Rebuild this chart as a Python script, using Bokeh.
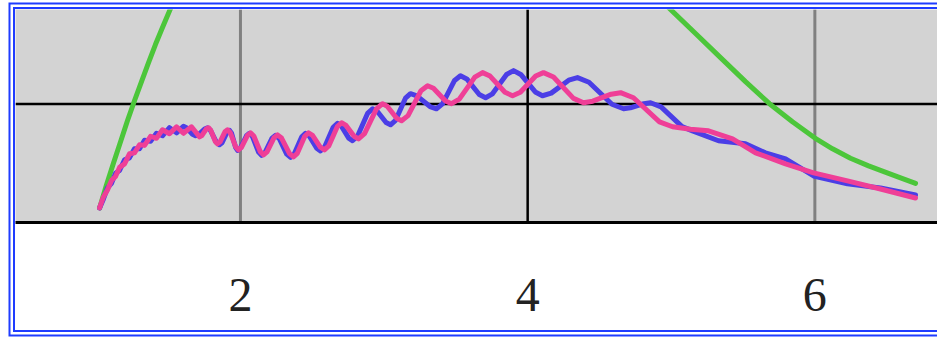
from bokeh.plotting import figure
from bokeh.models import Range1d, Span, FixedTicker
from bokeh.embed import file_html
from bokeh.resources import INLINE

# ---- data ----
x_ticks = [2, 4, 6]

pink_x = [1.019, 1.046, 1.074, 1.102, 1.130, 1.158, 1.193, 1.227, 1.262, 1.297, 1.332, 1.374,
          1.415, 1.457, 1.506, 1.555, 1.603, 1.659, 1.715, 1.731, 1.762, 1.778, 1.793, 1.825,
          1.840, 1.858, 1.892, 1.910, 1.929, 1.967, 1.986, 2.007, 2.049, 2.070, 2.093, 2.138,
          2.161, 2.185, 2.234, 2.258, 2.286, 2.342, 2.369, 2.396, 2.448, 2.474, 2.502, 2.557,
          2.585, 2.615, 2.674, 2.704, 2.733, 2.793, 2.822, 2.864, 2.947, 2.989, 3.022, 3.088,
          3.122, 3.167, 3.257, 3.303, 3.344, 3.428, 3.470, 3.524, 3.632, 3.686, 3.738, 3.842,
          3.895, 3.949, 4.056, 4.110, 4.180, 4.319, 4.389, 4.453, 4.582, 4.647, 4.737, 4.918,
          5.009, 5.134, 5.259, 5.427, 5.587, 5.796, 5.991, 6.227, 6.457, 6.701]
pink_y = [0.123, 0.216, 0.275, 0.355, 0.389, 0.465, 0.495, 0.580, 0.588, 0.656, 0.651, 0.728,
          0.711, 0.783, 0.749, 0.808, 0.753, 0.808, 0.723, 0.734, 0.789, 0.800, 0.780, 0.684,
          0.664, 0.681, 0.766, 0.783, 0.758, 0.638, 0.613, 0.635, 0.736, 0.757, 0.730, 0.598,
          0.571, 0.596, 0.716, 0.740, 0.713, 0.581, 0.554, 0.584, 0.728, 0.757, 0.736, 0.635,
          0.613, 0.646, 0.809, 0.842, 0.822, 0.726, 0.706, 0.750, 0.959, 1.003, 0.981, 0.880,
          0.859, 0.902, 1.112, 1.155, 1.133, 1.025, 1.003, 1.041, 1.227, 1.265, 1.236, 1.099,
          1.070, 1.099, 1.236, 1.265, 1.228, 1.048, 1.011, 1.024, 1.083, 1.096, 1.053, 0.850,
          0.808, 0.787, 0.774, 0.706, 0.588, 0.495, 0.419, 0.351, 0.283, 0.207]

blue_x = [1.019, 1.046, 1.074, 1.102, 1.130, 1.158, 1.193, 1.227, 1.262, 1.297, 1.332, 1.374,
          1.415, 1.457, 1.506, 1.555, 1.603, 1.624, 1.666, 1.687, 1.708, 1.750, 1.771, 1.791,
          1.833, 1.854, 1.872, 1.906, 1.924, 1.938, 1.966, 1.980, 2.000, 2.042, 2.063, 2.084,
          2.126, 2.147, 2.171, 2.220, 2.244, 2.270, 2.322, 2.349, 2.375, 2.427, 2.453, 2.479,
          2.531, 2.557, 2.587, 2.646, 2.676, 2.702, 2.754, 2.780, 2.815, 2.885, 2.920, 2.951,
          3.014, 3.045, 3.080, 3.149, 3.184, 3.229, 3.320, 3.365, 3.407, 3.491, 3.532, 3.576,
          3.663, 3.707, 3.755, 3.853, 3.902, 3.952, 4.053, 4.103, 4.164, 4.286, 4.347, 4.427,
          4.587, 4.668, 4.715, 4.809, 4.856, 4.929, 5.075, 5.148, 5.329, 5.517, 5.656, 5.796,
          5.991, 6.227, 6.457, 6.701]
blue_y = [0.123, 0.199, 0.292, 0.330, 0.415, 0.440, 0.529, 0.546, 0.622, 0.622, 0.694, 0.685,
          0.753, 0.732, 0.800, 0.757, 0.812, 0.800, 0.744, 0.732, 0.742, 0.789, 0.800, 0.778,
          0.677, 0.656, 0.673, 0.761, 0.778, 0.754, 0.634, 0.609, 0.630, 0.732, 0.753, 0.726,
          0.594, 0.567, 0.591, 0.712, 0.736, 0.709, 0.577, 0.550, 0.580, 0.723, 0.753, 0.731,
          0.627, 0.605, 0.639, 0.804, 0.838, 0.816, 0.712, 0.690, 0.729, 0.921, 0.960, 0.941,
          0.844, 0.825, 0.863, 1.049, 1.087, 1.069, 0.979, 0.960, 1.001, 1.199, 1.239, 1.212,
          1.080, 1.053, 1.086, 1.249, 1.282, 1.250, 1.102, 1.070, 1.092, 1.201, 1.223, 1.184,
          0.998, 0.960, 0.968, 1.003, 1.011, 0.976, 0.809, 0.774, 0.690, 0.664, 0.588, 0.537,
          0.393, 0.326, 0.292, 0.233]

green_x = [1.019, 1.067, 1.116, 1.165, 1.213, 1.262, 1.311, 1.360, 1.408, 1.457, 1.513, 1.548,
           float("nan"),
           4.932, 4.995, 5.169, 5.343, 5.517, 5.684, 5.844, 5.998, 6.123, 6.248, 6.374,
           6.485, 6.597, 6.701]
green_y = [0.123, 0.317, 0.503, 0.681, 0.859, 1.028, 1.189, 1.349, 1.502, 1.646, 1.806, 1.899,
           float("nan"),
           1.874, 1.798, 1.595, 1.392, 1.189, 1.003, 0.850, 0.715, 0.622, 0.542, 0.478,
           0.427, 0.377, 0.330]

p = figure(width=922, height=321, output_backend="svg", toolbar_location=None,
           x_range=Range1d(0.4335, 6.854), y_range=Range1d(0, 1.798),
           y_axis_location=None, min_border_left=0, min_border_right=0,
           min_border_top=0, min_border_bottom=108)
p.styles = {"margin-left": "15px", "margin-top": "9px",
            "box-shadow": "0 0 0 2px #1f3cff, 0 0 0 4.5px #ffffff, 0 0 0 6.5px #1f3cff"}

p.background_fill_color = "#d3d3d3"
p.border_fill_color = "white"
p.outline_line_color = None
p.xgrid.visible = False
p.ygrid.visible = False

ax = p.xaxis[0]
ax.ticker = FixedTicker(ticks=x_ticks)
ax.axis_line_color = "black"
ax.axis_line_width = 3
ax.major_tick_line_color = None
ax.minor_tick_line_color = None
ax.major_label_text_font = "Liberation Serif"
ax.major_label_text_font_size = "48px"
ax.major_label_text_color = "#222222"
ax.major_label_standoff = 50

for loc, col, w in [(2, "#808080", 3), (4, "black", 2.5), (6, "#808080", 3)]:
    s = Span(location=loc, dimension="height", line_color=col, line_width=w, level="underlay")
    p.add_layout(s)
p.add_layout(Span(location=1, dimension="width", line_color="black", line_width=2.5,
                  level="underlay"))

p.line(green_x, green_y, line_color="#4cc63a", line_width=5, line_cap="round", line_join="round")
p.line(blue_x, blue_y, line_color="#4b3ee6", line_width=5, line_cap="round", line_join="round")
p.line(pink_x, pink_y, line_color="#ef3f97", line_width=5, line_cap="round", line_join="round")

open("out.html", "w").write(file_html(p, INLINE))
